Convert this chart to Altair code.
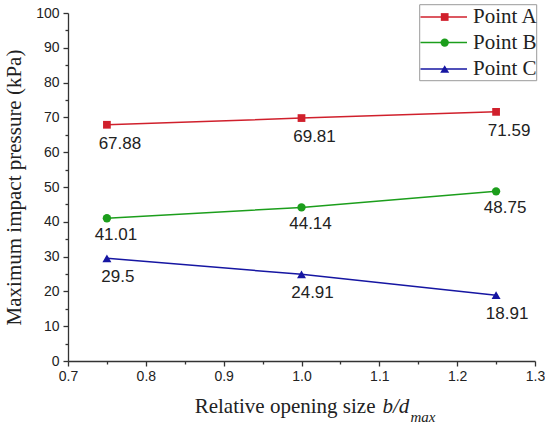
import altair as alt
import pandas as pd

# Relative opening size b/d_max and the peak pressures at the three gauges (kPa)
ratio = [0.75, 1.0, 1.25]
point_a = [67.88, 69.81, 71.59]
point_b = [41.01, 44.14, 48.75]
point_c = [29.5, 24.91, 18.91]

series_names = ["Point A", "Point B", "Point C"]
series_values = [point_a, point_b, point_c]
series_colors = ["#d0202c", "#1c9e1c", "#1616a2"]
series_shapes = ["square", "circle", "triangle-up"]
series_sizes = [60, 70, 80]

# axis ticks: labelled majors plus unlabelled minors halfway between
x_ticks = [0.7, 0.75, 0.8, 0.85, 0.9, 0.95, 1.0, 1.05, 1.1, 1.15, 1.2, 1.25, 1.3]
y_ticks = [0, 5, 10, 15, 20, 25, 30, 35, 40, 45, 50, 55, 60, 65, 70, 75, 80, 85, 90, 95, 100]

W, H = 467, 348
SERIF = "Liberation Serif"
SANS = "Liberation Sans"
INK = "#222222"

x_major = "abs(datum.value * 10 - round(datum.value * 10)) < 0.001"
y_major = "datum.value % 10 == 0"

x_enc = alt.X(
    "ratio:Q",
    scale=alt.Scale(domain=[0.7, 1.3], nice=False, zero=False),
    axis=alt.Axis(
        values=x_ticks,
        title=None,
        grid=False,
        labelExpr=f"{x_major} ? format(datum.value, '.1f') : ''",
        tickSize={"condition": {"test": x_major, "value": 5}, "value": 3},
        labelPadding=3,
    ),
)
y_enc = alt.Y(
    "pressure:Q",
    scale=alt.Scale(domain=[0, 100], nice=False),
    axis=alt.Axis(
        values=y_ticks,
        title="Maximum impact pressure (kPa)",
        grid=False,
        labelExpr=f"{y_major} ? format(datum.value, 'd') : ''",
        tickSize={"condition": {"test": y_major, "value": 5}, "value": 3},
        labelPadding=4,
        titleFont=SERIF,
        titleFontSize=21,
        titleFontWeight="normal",
        titleColor=INK,
        titleX=-48,
        titleY=H / 2,
        titleBaseline="alphabetic",
        titleAlign="center",
    ),
)

# per-series label offsets (px) for the value annotations
label_dx = [13, 9, 11]
label_dy = [19, 17, 19]

layers = []
for name, vals, col, shp, sz, dx, dy in zip(
    series_names, series_values, series_colors, series_shapes, series_sizes, label_dx, label_dy
):
    df = pd.DataFrame({"ratio": ratio, "pressure": vals, "series": name})
    base = alt.Chart(df).encode(x=x_enc, y=y_enc)
    layers.append(base.mark_line(color=col, strokeWidth=1.5))
    layers.append(base.mark_point(filled=True, color=col, shape=shp, size=sz, opacity=1))
    layers.append(
        base.mark_text(
            dx=dx, dy=dy, font=SANS, fontSize=17, color=INK, baseline="middle", align="center"
        ).encode(text=alt.Text("pressure:Q"))
    )

one = pd.DataFrame({"k": [0]})

# x-axis title with italic b/d and subscript max
title_parts = [
    ("Relative opening size", 126.7, 399.7, 21, "normal"),
    ("b/d", 314.5, 399.7, 21, "italic"),
    ("max", 342.5, 408.5, 15, "italic"),
]
for txt, tx, ty, fs, style in title_parts:
    layers.append(
        alt.Chart(one)
        .mark_text(
            text=txt, font=SERIF, fontSize=fs, fontStyle=style, color=INK,
            align="left", baseline="alphabetic",
        )
        .encode(x=alt.value(tx), y=alt.value(ty))
    )

# legend box with line+marker swatches
layers.append(
    alt.Chart(one)
    .mark_rect(fill="white", stroke="#9a9a9a", strokeWidth=1)
    .encode(x=alt.value(351.7), x2=alt.value(468.7), y=alt.value(-8.3), y2=alt.value(67.7))
)
legend_rows = [4.0, 29.6, 56.0]
for name, col, shp, sz, ry in zip(series_names, series_colors, series_shapes, series_sizes, legend_rows):
    ld = pd.DataFrame({"series": [name]})
    layers.append(
        alt.Chart(ld)
        .mark_rule(color=col, strokeWidth=1.5)
        .encode(x=alt.value(352.5), x2=alt.value(399), y=alt.value(ry))
    )
    layers.append(
        alt.Chart(ld)
        .mark_point(filled=True, color=col, shape=shp, size=sz, opacity=1)
        .encode(x=alt.value(376.7), y=alt.value(ry))
    )
    layers.append(
        alt.Chart(ld)
        .mark_text(font=SERIF, fontSize=21, color=INK, align="left", baseline="middle")
        .encode(x=alt.value(405), y=alt.value(ry), text="series:N")
    )

chart = (
    alt.layer(*layers)
    .properties(
        width=W,
        height=H,
        autosize=alt.AutoSizeParams(type="none"),
        padding={"left": 68, "top": 13, "right": 10, "bottom": 64},
        background="white",
    )
    .configure_view(stroke=None)
    .configure_axis(
        domainColor="#333333",
        domainWidth=1.3,
        tickColor="#333333",
        tickWidth=1.3,
        labelColor=INK,
        labelFont=SANS,
        labelFontSize=14,
        labelOverlap=False,
        labelFlush=False,
    )
)

chart.save("out.html", embed_options={"renderer": "svg", "actions": False})
